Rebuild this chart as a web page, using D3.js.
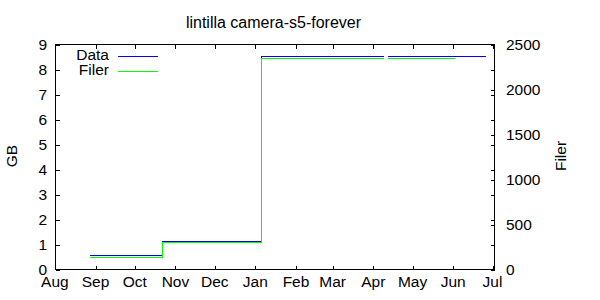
<!DOCTYPE html>
<html><head><meta charset="utf-8">
<script src="https://cdn.jsdelivr.net/npm/d3@7"></script>
<style>
body{margin:0;background:#fff}
text{font-family:"Liberation Sans",Arial,Helvetica,sans-serif;fill:#000}
</style>
</head><body>
<svg id="chart" width="600" height="300"></svg>
<script>
const title = "lintilla camera-s5-forever";
const monthLabels = ["Aug","Sep","Oct","Nov","Dec","Jan","Feb","Mar","Apr","May","Jun","Jul"];
const monthTicks = ["2013-08-01","2013-09-01","2013-10-01","2013-11-01","2013-12-01","2014-01-01","2014-02-01","2014-03-01","2014-04-01","2014-05-01","2014-06-01","2014-07-01"];
const xDomain = ["2013-08-01T11:00","2014-07-02T12:00"];
const gbTicks = [0,1,2,3,4,5,6,7,8,9];
const filerTicks = [0,500,1000,1500,2000,2500];
const seriesNames = ["Data","Filer"];
// Data (GB), step series; null = gap
const dataDates = ["2013-08-27T19:00","2013-10-21T22:00","2014-01-05T12:00","2014-04-09T07:00","2014-04-10T19:00","2014-04-12T07:00","2014-06-25T22:00"];
const dataGB    = [0.56, 1.12, 8.52, 8.52, null, 8.52, 8.52];
// Filer (count), step series; null = gap
const filerDates = ["2013-08-27T19:00","2013-10-21T22:00","2014-01-05T12:00","2014-04-09T07:00","2014-04-10T19:00","2014-04-12T07:00","2014-06-02T12:00"];
const filerCount = [133, 300, 2344, 2344, null, 2344, 2344];

const parse = d3.timeParse("%Y-%m-%dT%H:%M");
const parseDay = d3.timeParse("%Y-%m-%d");
const L = 55.5, R = 494.5, T = 44.5, B = 269.5;
const svg = d3.select("#chart");
const fs = "15.5px";

const x = d3.scaleTime().domain(xDomain.map(parse)).range([L, R]);
const y = d3.scaleLinear().domain([0, 9]).range([B, T]);
const y2 = d3.scaleLinear().domain([0, 2500]).range([B, T]);

// title
svg.append("text").attr("x", 273.5).attr("y", 28).attr("text-anchor","middle")
  .style("font-size","16px").text(title);

const g = svg.append("g").attr("shape-rendering","crispEdges");

// ticks: bottom (inward) + mirrored top
const mt = monthTicks.map(parseDay);
const bottomAxis = d3.axisBottom(x).tickValues(mt).tickSize(-4).tickFormat("");
g.append("g").attr("transform",`translate(0,${B})`).call(bottomAxis).call(s=>s.select(".domain").remove());
const topAxis = d3.axisTop(x).tickValues(mt).tickSize(-4).tickFormat("");
g.append("g").attr("transform",`translate(0,${T})`).call(topAxis).call(s=>s.select(".domain").remove());
// left y ticks inward, mirrored right
g.append("g").attr("transform",`translate(${L},0)`).call(d3.axisLeft(y).tickValues(gbTicks).tickSize(-4).tickFormat("")).call(s=>s.select(".domain").remove());
g.append("g").attr("transform",`translate(${R},0)`).call(d3.axisRight(y).tickValues(gbTicks).tickSize(-4).tickFormat("")).call(s=>s.select(".domain").remove());
// y2 ticks inward on right
g.append("g").attr("transform",`translate(${R},0)`).call(d3.axisRight(y2).tickValues(filerTicks).tickSize(-4).tickFormat("")).call(s=>s.select(".domain").remove());

g.selectAll(".tick line").attr("stroke","#000");

// border
g.append("rect").attr("x",L).attr("y",T).attr("width",R-L).attr("height",B-T)
  .attr("fill","none").attr("stroke","#000").attr("stroke-width",1);

// tick labels
svg.append("g").selectAll("text").data(mt).join("text")
  .attr("x", d=>x(d)).attr("y", 287).attr("text-anchor","middle").style("font-size",fs)
  .text((d,i)=>monthLabels[i]);
svg.append("g").selectAll("text").data(gbTicks).join("text")
  .attr("x", 47).attr("y", d=>y(d)).attr("dy","0.36em").attr("text-anchor","end").style("font-size",fs)
  .text(d=>d);
svg.append("g").selectAll("text").data(filerTicks).join("text")
  .attr("x", 506).attr("y", d=>y2(d)).attr("dy","0.36em").attr("text-anchor","start").style("font-size",fs)
  .text(d=>d);

// axis titles
svg.append("text").attr("transform","translate(17,156) rotate(-90)").attr("text-anchor","middle")
  .style("font-size",fs).text("GB");
svg.append("text").attr("transform","translate(566,156) rotate(-90)").attr("text-anchor","middle")
  .style("font-size",fs).text("Filer");

// series
const dataPts = dataDates.map((d,i)=>({t:parse(d), v:dataGB[i]}));
const filerPts = filerDates.map((d,i)=>({t:parse(d), v:filerCount[i]}));
const lineData = d3.line().defined(d=>d.v!=null).x(d=>x(d.t)).y(d=>y(d.v)).curve(d3.curveStepAfter);
const lineFiler = d3.line().defined(d=>d.v!=null).x(d=>x(d.t)).y(d=>y2(d.v)).curve(d3.curveStepAfter);
g.append("path").datum(dataPts).attr("d", lineData).attr("fill","none").attr("stroke","#0000ff").attr("stroke-width",1);
g.append("path").datum(filerPts).attr("d", lineFiler).attr("fill","none").attr("stroke","#00ff00").attr("stroke-width",1);

// legend
const colors = ["#0000ff","#00ff00"];
const leg = svg.append("g");
seriesNames.forEach((n,i)=>{
  leg.append("text").attr("x",109).attr("y",60+15*i).attr("text-anchor","end").style("font-size",fs).text(n);
  leg.append("line").attr("x1",118).attr("x2",158).attr("y1",56.5+15*i).attr("y2",56.5+15*i)
    .attr("stroke",colors[i]).attr("stroke-width",1).attr("shape-rendering","crispEdges");
});
</script>
</body></html>
